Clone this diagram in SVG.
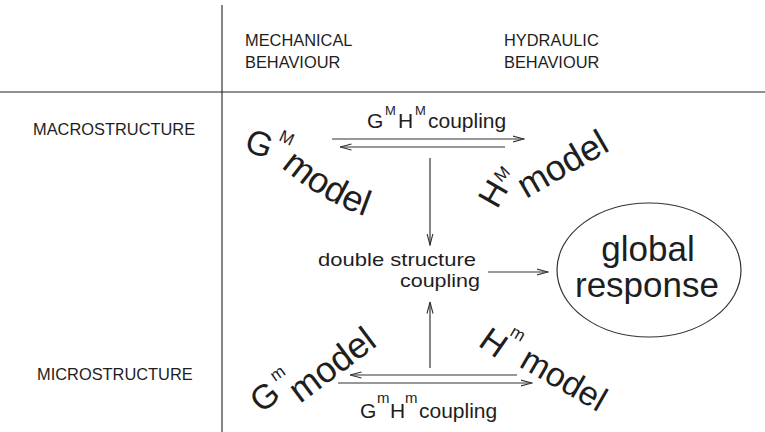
<svg xmlns="http://www.w3.org/2000/svg" width="765" height="432" viewBox="0 0 765 432">
<style>
  text { font-family: "Liberation Sans", Arial, sans-serif; fill: #1e1e1e; }
  .hdr { font-size: 16.4px; }
  .big { font-size: 34px; }
  .bigm { font-size: 36px; }
  .sup { font-size: 17px; }
  .lbl { font-size: 21px; }
  .dsl { font-size: 19px; }
  .slbl { font-size: 13px; }
  .grid { stroke: #222; stroke-width: 1.1; fill: none; }
  .con { stroke: #333; stroke-width: 1.2; fill: none; }
</style>
<defs>
  <marker id="ah" viewBox="0 0 12 8" refX="11.5" refY="4" markerWidth="12" markerHeight="8" markerUnits="userSpaceOnUse" orient="auto-start-reverse">
    <path d="M0,1 L11.5,4 L0,7" fill="none" stroke="#333" stroke-width="1.1"/>
  </marker>
  <path id="pGM" d="M281,167 Q322,203 376,220"/>
</defs>

<g id="grid">
  <line class="grid" x1="222" y1="5" x2="222" y2="432"/>
  <line class="grid" x1="0" y1="92" x2="765" y2="92"/>
</g>

<g id="headers">
  <text class="hdr" x="245" y="46">MECHANICAL</text>
  <text class="hdr" x="245" y="68">BEHAVIOUR</text>
  <text class="hdr" x="504" y="46">HYDRAULIC</text>
  <text class="hdr" x="504" y="68">BEHAVIOUR</text>
  <text class="hdr" x="33" y="135">MACROSTRUCTURE</text>
  <text class="hdr" x="37" y="380">MICROSTRUCTURE</text>
</g>

<g id="GM_model">
  <text class="big" transform="translate(243,150) rotate(20)">G</text>
  <text class="sup" transform="translate(278,140) rotate(25)">M</text>
  <text class="bigm"><textPath href="#pGM">model</textPath></text>
</g>

<g id="HM_model">
  <text class="big" transform="translate(497,210) rotate(-60)">H</text>
  <text class="sup" transform="translate(501,183) rotate(-45)">M</text>
  <text class="bigm" transform="translate(526,199) rotate(-30)">model</text>
</g>

<g id="Gm_model">
  <text class="big" transform="translate(262,414) rotate(-40)">G</text>
  <text class="sup" transform="translate(275,382) rotate(-35)">m</text>
  <text class="bigm" transform="translate(300,404) rotate(-37)">model</text>
</g>

<g id="Hm_model">
  <text class="big" transform="translate(477,345) rotate(35)">H</text>
  <text class="sup" transform="translate(509,335) rotate(30)">m</text>
  <text class="big" transform="translate(518,366) rotate(30)">model</text>
</g>

<g id="double_structure">
  <text class="dsl" x="476" y="266" text-anchor="end" textLength="158" lengthAdjust="spacingAndGlyphs">double structure</text>
  <text class="dsl" x="480" y="287" text-anchor="end" textLength="80" lengthAdjust="spacingAndGlyphs">coupling</text>
</g>

<g id="global_response">
  <ellipse cx="649" cy="270" rx="92" ry="67" fill="none" stroke="#333" stroke-width="1.2"/>
  <text x="648" y="261" text-anchor="middle" style="font-size:35px">global</text>
  <text x="647" y="297" text-anchor="middle" style="font-size:35px">response</text>
</g>

<g id="coupling_labels">
  <text class="lbl" y="128"><tspan x="367">G</tspan><tspan class="slbl" x="385" y="115">M</tspan><tspan x="398" y="128">H</tspan><tspan class="slbl" x="415" y="115">M</tspan><tspan x="428" y="128">coupling</tspan></text>
  <text class="lbl" y="418"><tspan x="360">G</tspan><tspan class="slbl" x="377" y="403" style="font-size:15px">m</tspan><tspan x="390" y="418">H</tspan><tspan class="slbl" x="405" y="403" style="font-size:15px">m</tspan><tspan x="419" y="418">coupling</tspan></text>
</g>

<g id="connectors">
  <line class="con" x1="332" y1="139" x2="524" y2="139" marker-end="url(#ah)"/>
  <line class="con" x1="340" y1="147" x2="505" y2="147" marker-start="url(#ah)"/>
  <line class="con" x1="430" y1="158" x2="430" y2="245" marker-end="url(#ah)"/>
  <line class="con" x1="488" y1="272" x2="548" y2="272" marker-end="url(#ah)"/>
  <line class="con" x1="430" y1="368" x2="430" y2="302" marker-end="url(#ah)"/>
  <line class="con" x1="350" y1="375" x2="517" y2="375" marker-start="url(#ah)"/>
  <line class="con" x1="338" y1="383" x2="532" y2="383" marker-end="url(#ah)"/>
</g>
</svg>
